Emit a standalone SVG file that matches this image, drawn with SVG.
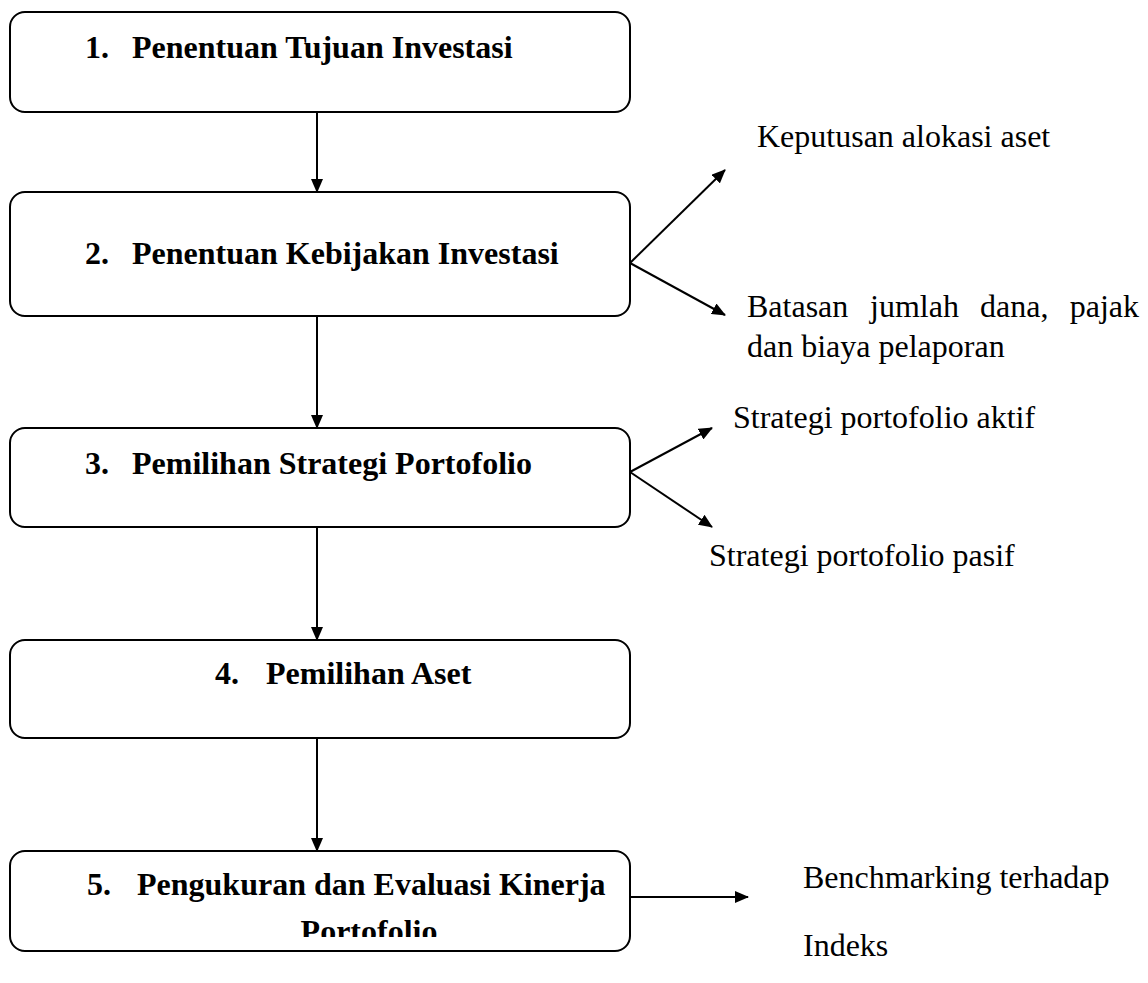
<svg xmlns="http://www.w3.org/2000/svg" width="1148" height="983" viewBox="0 0 1148 983">
<style>
.box{fill:#fff;stroke:#000;stroke-width:2}
.bt{font-family:"Liberation Serif","Times New Roman",serif;font-weight:bold;font-size:32px;fill:#000}
.lt{font-family:"Liberation Serif","Times New Roman",serif;font-size:32px;fill:#000}
.ln{stroke:#000;stroke-width:2;fill:none}
</style>
<defs>
<marker id="ah" viewBox="0 0 14 12" refX="13" refY="6" markerWidth="14" markerHeight="12" markerUnits="userSpaceOnUse" orient="auto">
<path d="M0,0 L14,6 L0,12 Z" fill="#000"/>
</marker>
<clipPath id="c5"><rect x="10" y="851" width="620" height="86"/></clipPath>
</defs>
<rect width="1148" height="983" fill="#fff"/>
<g id="connectors">
<line class="ln" x1="317" y1="112" x2="317" y2="192" marker-end="url(#ah)"/>
<line class="ln" x1="317" y1="316" x2="317" y2="428" marker-end="url(#ah)"/>
<line class="ln" x1="317" y1="527" x2="317" y2="640" marker-end="url(#ah)"/>
<line class="ln" x1="317" y1="738" x2="317" y2="851" marker-end="url(#ah)"/>
<line class="ln" x1="630" y1="263" x2="725" y2="170" marker-end="url(#ah)"/>
<line class="ln" x1="630" y1="263" x2="725" y2="315" marker-end="url(#ah)"/>
<line class="ln" x1="630" y1="472" x2="712" y2="428" marker-end="url(#ah)"/>
<line class="ln" x1="630" y1="472" x2="712" y2="527" marker-end="url(#ah)"/>
<line class="ln" x1="630" y1="897" x2="748" y2="897" marker-end="url(#ah)"/>
</g>
<g id="n1">
<rect class="box" x="10" y="12" width="620" height="100" rx="15"/>
<text class="bt" y="58"><tspan x="85">1.</tspan><tspan x="132">Penentuan Tujuan Investasi</tspan></text>
</g>
<g id="n2">
<rect class="box" x="10" y="192" width="620" height="124" rx="15"/>
<text class="bt" y="264"><tspan x="85">2.</tspan><tspan x="132">Penentuan Kebijakan Investasi</tspan></text>
</g>
<g id="n3">
<rect class="box" x="10" y="428" width="620" height="99" rx="15"/>
<text class="bt" y="474"><tspan x="85">3.</tspan><tspan x="132">Pemilihan Strategi Portofolio</tspan></text>
</g>
<g id="n4">
<rect class="box" x="10" y="640" width="620" height="98" rx="15"/>
<text class="bt" y="684"><tspan x="215">4.</tspan><tspan x="266">Pemilihan Aset</tspan></text>
</g>
<g id="n5">
<rect class="box" x="10" y="851" width="620" height="100" rx="15"/>
<text class="bt" y="895"><tspan x="87">5.</tspan><tspan x="137">Pengukuran dan Evaluasi Kinerja</tspan></text>
<text class="bt" x="369" y="942" text-anchor="middle" clip-path="url(#c5)">Portofolio</text>
</g>
<g id="labels">
<text class="lt" x="757" y="147">Keputusan alokasi aset</text>
<text class="lt" y="317"><tspan x="747">Batasan</tspan><tspan x="870">jumlah</tspan><tspan x="980">dana,</tspan><tspan x="1139" text-anchor="end">pajak</tspan></text>
<text class="lt" x="747" y="357">dan biaya pelaporan</text>
<text class="lt" x="733" y="428">Strategi portofolio aktif</text>
<text class="lt" x="709" y="566">Strategi portofolio pasif</text>
<text class="lt" x="803" y="888">Benchmarking terhadap</text>
<text class="lt" x="803" y="956">Indeks</text>
</g>
</svg>
